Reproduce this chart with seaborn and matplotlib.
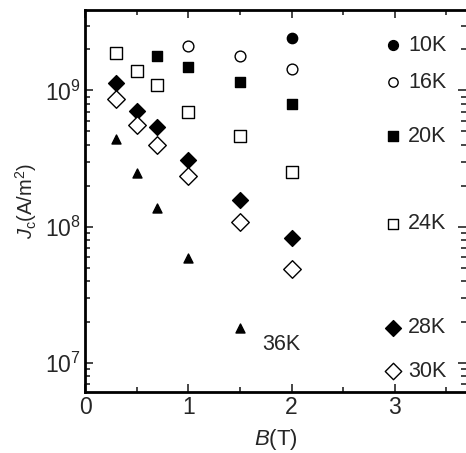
import pandas as pd
import matplotlib
matplotlib.use("Agg")
import matplotlib.pyplot as plt
import matplotlib.ticker as mticker
import seaborn as sns

# critical current density vs field
B = [0.3, 0.5, 0.7, 1.0, 1.5, 2.0]
jc_10K = [None, None, None, None, None, 2.41e9]
jc_16K = [None, None, None, 2.11e9, 1.78e9, 1.43e9]
jc_20K = [None, None, 1.78e9, 1.48e9, 1.16e9, 8.0e8]
jc_24K = [1.87e9, 1.40e9, 1.09e9, 6.9e8, 4.6e8, 2.54e8]
jc_28K = [1.14e9, 7.1e8, 5.35e8, 3.06e8, 1.58e8, 8.2e7]
jc_30K = [8.7e8, 5.6e8, 4.0e8, 2.37e8, 1.09e8, 4.9e7]
jc_36K = [4.4e8, 2.49e8, 1.38e8, 5.9e7, 1.81e7, None]

temps = ["10K", "16K", "20K", "24K", "28K", "30K", "36K"]
series = [jc_10K, jc_16K, jc_20K, jc_24K, jc_28K, jc_30K, jc_36K]
markers = ["o", "o", "s", "s", "D", "D", "^"]
filled = [True, False, True, False, True, False, True]
sizes = [55, 60, 60, 75, 65, 80, 42]

# label keys drawn on the right, like the original
key_x = 2.98
key_y = [2.14e9, 1.15e9, 4.6e8, 1.05e8, 1.81e7, 8.7e6]
key_sizes = [50, 45, 50, 55, 65, 70]
label_36K = (1.72, 1.36e7)

rows = []
for t, vals in zip(temps, series):
    for b, v in zip(B, vals):
        if v is not None:
            rows.append({"B": b, "Jc": v, "T": t})
df = pd.DataFrame(rows)

sns.set_style("ticks")
plt.rcParams["font.family"] = ["Liberation Sans", "DejaVu Sans"]
plt.rcParams["mathtext.fontset"] = "custom"
plt.rcParams["mathtext.rm"] = "Liberation Sans"
plt.rcParams["mathtext.it"] = "Liberation Sans:italic"

fig = plt.figure(figsize=(4.66, 4.53), dpi=100)
ax = fig.add_axes([85 / 466, 1 - 392 / 453, 1 - 85 / 466, 382 / 453])

for t, m, f, s in zip(temps, markers, filled, sizes):
    sub = df[df["T"] == t]
    sns.scatterplot(data=sub, x="B", y="Jc", ax=ax, marker=m, s=s,
                    color="black" if f else "white", edgecolor="black",
                    linewidth=1.0, legend=False, zorder=3)

# right-hand keys
for t, m, f, ky, ks in zip(temps[:6], markers[:6], filled[:6], key_y, key_sizes):
    ax.scatter([key_x], [ky], marker=m, s=ks, facecolor="black" if f else "white",
               edgecolor="black", linewidth=1.0, zorder=3, clip_on=False)
    ax.text(key_x + 0.15, ky, t, fontsize=15.5, va="center", ha="left")
ax.text(label_36K[0], label_36K[1], "36K", fontsize=15.5, va="center", ha="left")

ax.set_yscale("log")
ax.set_xlim(0, 3.69)
ax.set_ylim(6.1e6, 3.9e9)
ax.xaxis.set_major_locator(mticker.MultipleLocator(1))
ax.xaxis.set_minor_locator(mticker.MultipleLocator(0.5))
ax.yaxis.set_major_locator(mticker.LogLocator(base=10, numticks=10))
ax.yaxis.set_minor_locator(mticker.LogLocator(base=10, subs=range(2, 10), numticks=20))
ax.yaxis.set_major_formatter(mticker.LogFormatterMathtext())

ax.tick_params(which="both", direction="in", top=True, right=True, width=1.2,
               labelsize=16.5, pad=3)
ax.tick_params(which="major", length=6)
ax.tick_params(which="minor", length=3.5)
for side in ["left", "bottom", "top"]:
    ax.spines[side].set_linewidth(2)
    ax.spines[side].set_color("black")
ax.spines["right"].set_visible(False)

ax.set_xlabel(r"$B$(T)", fontsize=16, labelpad=6)
ax.set_ylabel(r"$J_{\mathrm{c}}$(A/m$^2$)", fontsize=14.5, labelpad=4)

fig.savefig("out.png", dpi=100)
